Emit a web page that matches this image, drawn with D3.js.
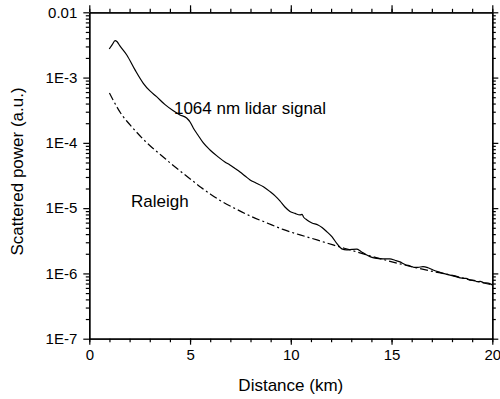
<!DOCTYPE html>
<html>
<head>
<meta charset="utf-8">
<script src="https://cdn.jsdelivr.net/npm/d3@7"></script>
<style>
  body { margin: 0; background: #fff; }
  text { font-family: "Liberation Sans", Arial, sans-serif; fill: #000; }
</style>
</head>
<body>
<script>
// lidar signal (km, a.u.)
const lidarKm = [0.99, 1.13, 1.28, 1.37, 1.52, 1.86, 2.27, 2.68, 3.01, 3.34, 3.76, 4.17, 4.50, 4.83, 5.00, 5.16,
  5.39, 5.66, 5.99, 6.40, 6.73, 6.98, 7.23, 7.48, 7.73, 7.98, 8.27, 8.64, 8.97, 9.22, 9.46, 9.71, 9.96,
  10.21, 10.46, 10.56, 10.63, 10.80, 11.05, 11.35, 11.55, 11.80, 12.05, 12.30, 12.53, 12.77, 13.04, 13.27,
  13.48, 13.77, 14.03, 14.28, 14.58, 14.92, 15.17, 15.42, 15.67, 15.92, 16.11, 16.31, 16.56, 16.81, 17.06,
  17.40, 17.75, 18.15, 18.50, 18.70, 18.90, 19.10, 19.24, 19.40, 19.59, 19.79, 20.0];
const lidarSignal = [2.74e-3, 3.16e-3, 3.68e-3, 3.57e-3, 3.05e-3, 2.22e-3, 1.31e-3, 8.18e-4, 6.24e-4, 5.10e-4,
  3.85e-4, 3.10e-4, 2.68e-4, 2.40e-4, 2.09e-4, 1.69e-4, 1.32e-4, 9.97e-5, 7.78e-5, 6.08e-5, 5.10e-5, 4.59e-5,
  4.06e-5, 3.58e-5, 3.11e-5, 2.70e-5, 2.43e-5, 2.13e-5, 1.79e-5, 1.54e-5, 1.29e-5, 1.04e-5, 8.91e-6,
  8.30e-6, 7.87e-6, 8.05e-6, 7.33e-6, 6.59e-6, 5.93e-6, 5.53e-6, 5.06e-6, 4.32e-6, 3.62e-6, 2.83e-6,
  2.38e-6, 2.29e-6, 2.33e-6, 2.35e-6, 2.17e-6, 1.92e-6, 1.76e-6, 1.70e-6, 1.67e-6, 1.67e-6, 1.59e-6,
  1.50e-6, 1.37e-6, 1.30e-6, 1.24e-6, 1.24e-6, 1.27e-6, 1.22e-6, 1.13e-6, 1.04e-6, 9.66e-7, 9.0e-7,
  8.45e-7, 8.40e-7, 7.90e-7, 7.85e-7, 7.50e-7, 7.55e-7, 7.20e-7, 7.10e-7, 6.67e-7];

// Raleigh (molecular) signal
const raleighKm = [1.00, 1.18, 1.37, 1.62, 1.92, 2.27, 2.66, 3.11, 3.61, 4.10, 4.60, 5.10, 5.55, 6.00, 6.49,
  7.23, 7.98, 8.82, 9.61, 10.46, 11.30, 12.10, 12.94, 13.78, 14.57, 15.42, 16.27, 17.06, 17.91, 18.90, 19.99];
const raleighSignal = [5.81e-4, 4.54e-4, 3.55e-4, 2.67e-4, 2.05e-4, 1.55e-4, 1.15e-4, 8.51e-5, 6.30e-5,
  4.67e-5, 3.52e-5, 2.66e-5, 2.07e-5, 1.65e-5, 1.31e-5, 9.89e-6, 7.60e-6, 5.93e-6, 4.72e-6, 3.89e-6,
  3.26e-6, 2.73e-6, 2.29e-6, 1.92e-6, 1.64e-6, 1.40e-6, 1.21e-6, 1.07e-6, 9.49e-7, 7.95e-7, 6.67e-7];

const xMajor = [0, 5, 10, 15, 20];
const xMinor = d3.range(0, 21, 1);
const yMajor = [1e-2, 1e-3, 1e-4, 1e-5, 1e-6, 1e-7];
const yLabels = ["0.01", "1E-3", "1E-4", "1E-5", "1E-6", "1E-7"];

const W = 500, H = 399;
const margin = {top: 12.3, right: 7.7, bottom: 60.3, left: 89.3};
const width = W - margin.left - margin.right,
      height = H - margin.top - margin.bottom;

const x = d3.scaleLinear().domain([0, 20]).range([0, width]);
const y = d3.scaleLog().domain([1e-7, 1e-2]).range([height, 0]);

// minor ticks in every decade
const yMinor = [];
for (let e = -7; e < -2; e++) for (let k = 2; k < 10; k++) yMinor.push(k * Math.pow(10, e));

const svg = d3.select("body").append("svg")
  .attr("width", W).attr("height", H);
const g = svg.append("g").attr("transform", `translate(${margin.left},${margin.top})`);

const MAJ = 6, MIN = 3.5;

function styleAxis(sel) {
  sel.selectAll("path.domain").attr("stroke", "#000").attr("stroke-width", 1.3);
  sel.selectAll(".tick line").attr("stroke", "#000").attr("stroke-width", 1.2);
}

// bottom
g.append("g").attr("transform", `translate(0,${height})`)
  .call(d3.axisBottom(x).tickValues(xMinor).tickSize(MIN).tickSizeOuter(0).tickFormat(""))
  .call(styleAxis);
g.append("g").attr("transform", `translate(0,${height})`)
  .call(d3.axisBottom(x).tickValues(xMajor).tickSize(MAJ).tickSizeOuter(0).tickPadding(5).tickFormat(d3.format("d")))
  .call(styleAxis)
  .call(a => a.selectAll("text").style("font-size", "15px").style("font-family", "Liberation Sans, Arial, sans-serif"));
// top
g.append("g")
  .call(d3.axisTop(x).tickValues(xMinor).tickSize(MIN).tickSizeOuter(0).tickFormat(""))
  .call(styleAxis);
g.append("g")
  .call(d3.axisTop(x).tickValues(xMajor).tickSize(MAJ + 1).tickSizeOuter(0).tickFormat(""))
  .call(styleAxis);
// left
g.append("g")
  .call(d3.axisLeft(y).tickValues(yMinor).tickSize(MIN).tickSizeOuter(0).tickFormat(""))
  .call(styleAxis);
g.append("g")
  .call(d3.axisLeft(y).tickValues(yMajor).tickSize(MAJ).tickSizeOuter(0).tickPadding(6)
    .tickFormat((d, i) => yLabels[i]))
  .call(styleAxis)
  .call(a => a.selectAll("text").style("font-size", "15px").style("font-family", "Liberation Sans, Arial, sans-serif"));
// right
g.append("g").attr("transform", `translate(${width},0)`)
  .call(d3.axisRight(y).tickValues(yMinor).tickSize(MIN).tickSizeOuter(0).tickFormat(""))
  .call(styleAxis);
g.append("g").attr("transform", `translate(${width},0)`)
  .call(d3.axisRight(y).tickValues(yMajor).tickSize(MAJ).tickSizeOuter(0).tickFormat(""))
  .call(styleAxis);

// curves
const line = d3.line()
  .x(d => x(d[0]))
  .y(d => y(d[1]))
  .curve(d3.curveMonotoneX);

g.append("path")
  .datum(d3.zip(raleighKm, raleighSignal))
  .attr("fill", "none")
  .attr("stroke", "#000")
  .attr("stroke-width", 1.2)
  .attr("stroke-dasharray", "8,3,2,3")
  .attr("d", line);

g.append("path")
  .datum(d3.zip(lidarKm, lidarSignal))
  .attr("fill", "none")
  .attr("stroke", "#000")
  .attr("stroke-width", 1.2)
  .attr("d", line);

// annotations
g.append("text")
  .attr("x", x(4.2)).attr("y", y(2.80e-4))
  .style("font-size", "17px")
  .text("1064 nm lidar signal");
g.append("text")
  .attr("x", x(2.07)).attr("y", y(1.04e-5))
  .style("font-size", "17px")
  .text("Raleigh");

// axis titles
svg.append("text")
  .attr("x", margin.left + width / 2).attr("y", 391)
  .attr("text-anchor", "middle")
  .style("font-size", "17px")
  .text("Distance (km)");
svg.append("text")
  .attr("transform", `translate(23,${margin.top + height / 2 - 4}) rotate(-90)`)
  .attr("text-anchor", "middle")
  .style("font-size", "17px")
  .text("Scattered power (a.u.)");
</script>
</body>
</html>
